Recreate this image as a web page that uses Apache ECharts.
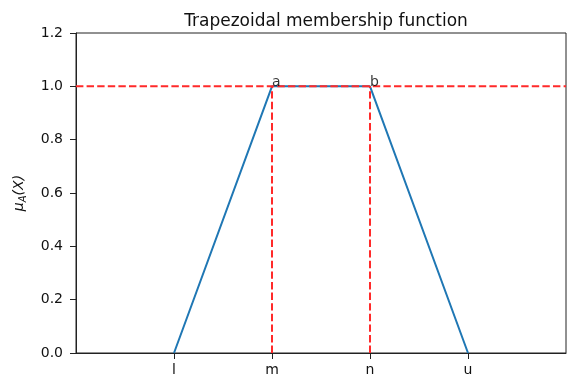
<!DOCTYPE html>
<html>
<head>
<meta charset="utf-8">
<script src="https://cdn.jsdelivr.net/npm/echarts@6/dist/echarts.min.js"></script>
<style>html,body{margin:0;padding:0;background:#fff;}#c{width:569px;height:380px;}</style>
</head>
<body>
<div id="c"></div>
<script>
const xTickLabels = ['l', 'm', 'n', 'u'];
const xTickValues = [1, 2, 3, 4];
const membership = [0, 1, 1, 0];
const yTicks = [0.0, 0.2, 0.4, 0.6, 0.8, 1.0, 1.2];
const cornerLabels = ['a', 'b'];
const cornerX = [2, 3];
const cornerY = [1, 1];
const refLevel = 1.0;

const font = 'DejaVu Sans';
const chart = echarts.init(document.getElementById('c'));
const trap = xTickValues.map((x, i) => [x, membership[i]]);
const red = '#ff2a2a';
const dash = [7.4, 3.2];

chart.setOption({
  animation: false,
  backgroundColor: '#fff',
  title: {
    text: 'Trapezoidal membership function',
    left: 321, top: 8, textAlign: 'center',
    textStyle: { fontFamily: font, fontSize: 17, fontWeight: 'normal', color: '#111' }
  },
  grid: { left: 76, top: 33, right: 3, bottom: 27, show: true, borderColor: '#222', borderWidth: 1 },
  xAxis: {
    type: 'value', min: 0, max: 5, interval: 1,
    splitLine: { show: false },
    axisLine: { show: true, lineStyle: { color: '#222', width: 1 } },
    axisTick: { show: true, length: 6, customValues: xTickValues, lineStyle: { color: '#222' } },
    axisLabel: {
      customValues: xTickValues, margin: 10,
      fontFamily: font, fontSize: 14, color: '#111',
      formatter: v => xTickLabels[xTickValues.indexOf(v)] || ''
    }
  },
  yAxis: {
    type: 'value', min: yTicks[0], max: yTicks[yTicks.length - 1], interval: 0.2,
    splitLine: { show: false },
    axisLine: { show: true, lineStyle: { color: '#222', width: 1 } },
    axisTick: { show: true, length: 6, lineStyle: { color: '#222' } },
    axisLabel: { margin: 13, fontFamily: font, fontSize: 14, color: '#111', formatter: v => v.toFixed(1) },
    name: '{m|μ}{s|A}{m|(X)}',
    nameLocation: 'middle', nameRotate: 90, nameGap: 48,
    nameTextStyle: {
      fontFamily: font, color: '#111',
      rich: {
        m: { fontFamily: font, fontSize: 14, fontStyle: 'italic', color: '#111' },
        s: { fontFamily: font, fontSize: 10, fontStyle: 'italic', color: '#111', padding: [7, 0, 0, 0] }
      }
    }
  },
  series: [
    {
      type: 'line', data: trap, symbol: 'none',
      lineStyle: { color: '#1f77b4', width: 2 }, z: 2
    },
    {
      type: 'line', data: [[0, refLevel], [5, refLevel]], symbol: 'none',
      lineStyle: { color: red, width: 2, type: dash }, z: 3
    },
    {
      type: 'line', data: [[cornerX[0], 0], [cornerX[0], cornerY[0]]], symbol: 'none',
      lineStyle: { color: red, width: 2, type: dash }, z: 3
    },
    {
      type: 'line', data: [[cornerX[1], 0], [cornerX[1], cornerY[1]]], symbol: 'none',
      lineStyle: { color: red, width: 2, type: dash }, z: 3
    },
    {
      type: 'scatter', symbolSize: 0, z: 4,
      data: cornerLabels.map((n, i) => ({ name: n, value: [cornerX[i], cornerY[i]] })),
      label: {
        show: true, formatter: p => p.name, position: 'top', distance: 0,
        align: 'left', verticalAlign: 'bottom', offset: [0, 3],
        fontFamily: font, fontSize: 14, color: '#000'
      }
    }
  ]
});
</script>
</body>
</html>
